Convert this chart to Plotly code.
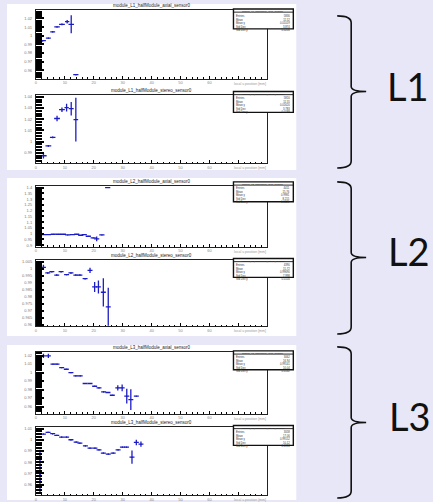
import plotly.graph_objects as go

W, H = 433, 502
BLUE = "#1c1cc4"

# ---------------- data ----------------
titles = [
    "module_L1_halfModule_axial_sensor0",
    "module_L1_halfModule_stereo_sensor0",
    "module_L2_halfModule_axial_sensor0",
    "module_L2_halfModule_stereo_sensor0",
    "module_L3_halfModule_axial_sensor0",
    "module_L3_halfModule_stereo_sensor0",
]
group_labels = ["L1", "L2", "L3"]

# L1 axial
p1_x = [2.3, 4.3, 5.8, 7.3, 9.0, 10.8, 12.2, 13.8]
p1_ex = [1.15, 0.85, 0.85, 0.95, 1.0, 0.75, 0.95, 0.9]
p1_y = [0.9943, 0.9973, 1.0046, 1.0103, 1.0133, 1.0163, 1.0133, 0.955]
p1_ey = [0.0008, 0.0008, 0.0008, 0.0008, 0.001, 0.002, 0.0105, 0.0005]

# L1 stereo
p2_x = [2.6, 4.3, 5.8, 7.3, 9.0, 10.6, 12.2, 13.8]
p2_ex = [1.1, 1.0, 0.95, 1.0, 1.0, 0.75, 0.85, 0.8]
p2_y = [0.9874, 0.9962, 1.0038, 1.0206, 1.0285, 1.0303, 1.0294, 1.0197]
p2_ey = [0.0024, 0.0008, 0.0008, 0.0024, 0.002, 0.0035, 0.006, 0.0195]

# L2 axial
p3_x = [2.6, 4.3, 6.0, 7.8, 9.5, 11.0, 12.6, 14.1, 15.5, 16.7, 18.1, 19.8, 21.0, 22.8, 24.8]
p3_ex = [0.9] * 15
p3_y = [0.9924, 0.9924, 0.9953, 0.9953, 0.9953, 0.9895, 0.9924, 0.9953, 0.9867,
        0.9924, 0.978, 0.9637, 0.955, 0.9895, 1.40]
p3_ey = [0.002] * 12 + [0.02, 0.002, 0.002]

# L2 stereo
p4_x = [2.6, 4.1, 5.5, 7.2, 8.7, 10.6, 12.1, 13.8, 15.2, 17.0, 18.7, 20.3, 21.6, 23.3, 25.0]
p4_ex = [0.86] * 15
p4_y = [1.0012, 0.9972, 0.9981, 0.9957, 0.9981, 0.9960, 0.9972, 0.9957, 0.9957,
        0.9931, 0.9991, 0.9872, 0.9872, 0.9834, 0.9730]
p4_ey = [0.0019, 0.0005, 0.0005, 0.0005, 0.0005, 0.0005, 0.0005, 0.0005, 0.0005,
         0.0005, 0.0019, 0.0036, 0.0047, 0.0101, 0.0136]

# L3 axial
p5_x = [2.6, 4.3, 5.9, 7.3, 8.9, 10.5, 12.1, 13.8, 15.3, 17.0, 18.7, 20.3, 21.8,
        23.4, 24.9, 26.4, 28.3, 29.8, 31.4, 32.8, 34.7]
p5_ex = [0.86] * 21
p5_y = [1.0196, 1.0196, 1.0098, 1.0098, 1.0059, 1.0039, 1.0, 0.9961, 0.9961, 0.9871,
        0.9871, 0.9839, 0.9820, 0.9773, 0.9765, 0.9733, 0.9820, 0.9820, 0.9722,
        0.9682, 0.9722]
p5_ey = [0.0024, 0.0024] + [0.0007] * 14 + [0.0031, 0.0039, 0.0086, 0.0122, 0.0005]

# L3 stereo
p6_x = [1.4] * 9 + [2.6, 4.2, 5.8, 7.2, 8.9, 10.6, 12.1, 13.9, 15.2, 17.1, 18.7, 20.4,
                    21.8, 23.3, 25.0, 26.7, 28.4, 29.9, 31.3, 33.2, 34.7, 36.3]
p6_ex = [0.3] * 9 + [0.86] * 22
p6_y = [0.9896, 0.9851, 0.9806, 0.9746, 0.9716, 0.9687, 0.9642, 0.9597, 0.9552,
        1.0051, 1.0066, 1.0054, 1.0039, 1.0024, 1.0024, 1.0, 0.9979, 0.997, 0.9946,
        0.9925, 0.9925, 0.991, 0.9881, 0.9872, 0.9881, 0.991, 0.9934, 0.9934,
        0.9845, 0.9976, 0.9961]
p6_ey = [0.0002] * 4 + [0.0194] + [0.0002] * 4 + [0.0006] * 19 + [0.006, 0.0024, 0.0024]

series = [
    (p1_x, p1_ex, p1_y, p1_ey),
    (p2_x, p2_ex, p2_y, p2_ey),
    (p3_x, p3_ex, p3_y, p3_ey),
    (p4_x, p4_ex, p4_y, p4_ey),
    (p5_x, p5_ex, p5_y, p5_ey),
    (p6_x, p6_ex, p6_y, p6_ey),
]
y_ranges = [
    (0.9506, 1.0293, 0.01),
    (0.9809, 1.0412, 0.01),
    (0.889, 1.4148, 0.05),
    (0.95924, 1.00616, 0.005),
    (0.9518, 1.0243, 0.01),
    (0.9507, 1.011, 0.01),
]
x_tickvals = [0, 10, 20, 30, 40, 50, 60, 70, 80]
x_ticktext = ["0", "10", "20", "30", "40", "50", "60", "", ""]

stat_labels = ["Entries", "Mean", "Mean y", "Std Dev", "Std Dev y"]
stat_values = [
    ["5836", "11.52", "0.01019", "3.874", "0.0206"],
    ["5816", "11.55", "0.01620", "3.783", "0.0189"],
    ["4411", "15.76", "0.9981", "8.215", "0.0126"],
    ["4390", "15.72", "0.99690", "7.998", "0.0104"],
    ["3062", "16.94", "0.99141", "10.04", "0.0142"],
    ["3058", "17.06", "0.99152", "10.12", "0.0134"],
]
x_title = "local u position [mm]"

# ---------------- layout geometry (pixels) ----------------
FX0, FX1 = 35, 267
frames = [(9.5, 78), (95, 163), (186, 247), (261, 327), (353, 415), (429, 497)]
statboxes = [(8, 28), (91, 112), (182, 202), (259, 278), (352, 371), (427, 447)]
panels = [(6, 3, 296, 170), (6, 178, 296, 337), (6, 346, 296, 502)]
braces = [(15, 91, 168), (182, 258, 335), (348, 424, 500)]
label_pos = [(408, 86), (409, 251), (410, 417)]


def px(x):
    return x / W


def py(y):
    return 1 - y / H


fig = go.Figure()
layout = dict(
    width=W, height=H, margin=dict(l=0, r=0, t=0, b=0),
    paper_bgcolor="#e7e7f8", plot_bgcolor="white", showlegend=False,
    font=dict(family="Liberation Sans", color="black"),
)
shapes = []
annotations = []

for (x0, y0, x1, y1) in panels:
    shapes.append(dict(type="rect", xref="paper", yref="paper", x0=px(x0), x1=px(x1),
                       y0=py(y1), y1=py(y0), fillcolor="white", line=dict(width=0),
                       layer="below"))

for i in range(6):
    n = "" if i == 0 else str(i + 1)
    top, bot = frames[i]
    ymin, ymax, ydt = y_ranges[i]
    layout["xaxis" + n] = dict(
        domain=[px(FX0), px(FX1)], range=[x_tickvals[0], x_tickvals[-1]], anchor="y" + n,
        showline=True, mirror=True, linecolor="#222", linewidth=1,
        ticks="inside", ticklen=3, tickwidth=1, tickcolor="black",
        tickmode="array", tickvals=x_tickvals, ticktext=x_ticktext,
        minor=dict(dtick=2, tick0=0, ticklen=1.5, ticks="inside", tickcolor="black"),
        showgrid=False, zeroline=False, tickfont=dict(size=4, color="#888"),
        ticklabelstandoff=0,
    )
    layout["yaxis" + n] = dict(
        domain=[py(bot), py(top)], range=[ymin, ymax], anchor="x" + n,
        showline=True, mirror=True, linecolor="#222", linewidth=1,
        ticks="inside", ticklen=8, tickwidth=2, tickcolor="black",
        dtick=ydt, tick0=1,
        minor=dict(dtick=ydt / 4, ticklen=6, tickwidth=1.5, ticks="inside", tickcolor="black"),
        showgrid=False, zeroline=False, tickfont=dict(size=4, color="#777"),
        ticklabelstandoff=2,
    )
    xs, exs, ys, eys = series[i]
    fig.add_trace(go.Scatter(
        x=xs, y=ys, mode="markers", xaxis="x" + n, yaxis="y" + n,
        marker=dict(size=1, color=BLUE),
        error_x=dict(type="data", array=exs, visible=True, width=0, thickness=1.3, color=BLUE),
        error_y=dict(type="data", array=eys, visible=True, width=0, thickness=1.3, color=BLUE),
        cliponaxis=True,
    ))
    # title
    annotations.append(dict(text=titles[i], xref="paper", yref="paper",
                            x=px((FX0 + FX1) / 2), y=py(top - 1), xanchor="center",
                            yanchor="bottom", showarrow=False, borderpad=0,
                            font=dict(size=4.5, color="#222")))
    # x axis title
    annotations.append(dict(text=x_title, xref="paper", yref="paper",
                            x=px(FX1), y=py(bot + 2), xanchor="right", yanchor="top",
                            showarrow=False, borderpad=0, font=dict(size=3.5, color="#999")))
    # stat box
    sb0, sb1 = statboxes[i]
    shapes.append(dict(type="rect", xref="paper", yref="paper", x0=px(233), x1=px(293),
                       y0=py(sb1), y1=py(sb0), fillcolor="white",
                       line=dict(color="#111", width=1.4), layer="above"))
    shapes.append(dict(type="line", xref="paper", yref="paper", x0=px(233), x1=px(293),
                       y0=py(sb0 + 3.2), y1=py(sb0 + 3.2), line=dict(color="#111", width=0.9)))
    annotations.append(dict(text=titles[i], xref="paper", yref="paper",
                            x=px(263), y=py(sb0 + 0.3), xanchor="center", yanchor="top",
                            showarrow=False, borderpad=0, font=dict(size=2.4, color="#222")))
    annotations.append(dict(text="<br>".join(stat_labels), xref="paper", yref="paper",
                            x=px(235), y=py(sb0 + 3.6), xanchor="left", yanchor="top",
                            align="left", showarrow=False, borderpad=0,
                            font=dict(size=2.7, color="#333")))
    annotations.append(dict(text="<br>".join(stat_values[i]), xref="paper", yref="paper",
                            x=px(291), y=py(sb0 + 3.6), xanchor="right", yanchor="top",
                            align="right", showarrow=False, borderpad=0,
                            font=dict(size=2.7, color="#333")))

# braces and labels
XE, XL, XT = 337, 351, 366
for (t, m, b) in braces:
    path = (f"M {px(XE)},{py(t)} Q {px(XL)},{py(t)} {px(XL)},{py(t + 7)} "
            f"L {px(XL)},{py(m - 5)} Q {px(XL)},{py(m)} {px(XT)},{py(m)} "
            f"Q {px(XL)},{py(m)} {px(XL)},{py(m + 5)} "
            f"L {px(XL)},{py(b - 7)} Q {px(XL)},{py(b)} {px(XE)},{py(b)}")
    shapes.append(dict(type="path", xref="paper", yref="paper", path=path,
                       line=dict(color="#111", width=1.6)))

for lab, (lx, ly) in zip(group_labels, label_pos):
    annotations.append(dict(text=lab, xref="paper", yref="paper", x=px(lx), y=py(ly),
                            xanchor="center", yanchor="middle", showarrow=False,
                            font=dict(size=38, color="#111", family="Lato")))

layout["shapes"] = shapes
layout["annotations"] = annotations
fig.update_layout(**layout)
fig.write_html("out.html")
